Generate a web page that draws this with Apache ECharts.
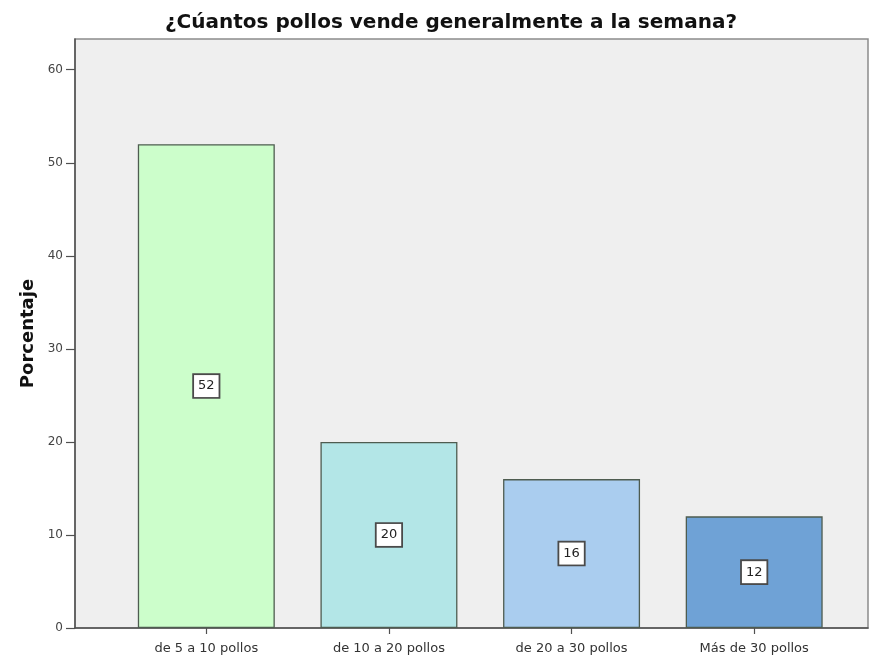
<!DOCTYPE html>
<html>
<head>
<meta charset="utf-8">
<script src="https://cdn.jsdelivr.net/npm/echarts@6/dist/echarts.min.js"></script>
<style>
  html, body { margin: 0; padding: 0; background: #ffffff; }
  #chart { width: 875px; height: 658px; }
</style>
</head>
<body>
<div id="chart"></div>
<script>
// Weekly chicken sales, percentage of respondents per range
const categories = ['de 5 a 10 pollos', 'de 10 a 20 pollos', 'de 20 a 30 pollos', 'Más de 30 pollos'];
const percentages = [52, 20, 16, 12];
const barColors = ['#ccfecb', '#b3e6e7', '#aacdef', '#6fa2d6'];
const yTicks = [0, 10, 20, 30, 40, 50, 60];

const chartTitle = '¿Cúantos pollos vende generalmente a la semana?';
const yName = 'Porcentaje';
const yMax = 63.3;

const font = 'DejaVu Sans, Arial, sans-serif';

const chart = echarts.init(document.getElementById('chart'), null, { renderer: 'canvas' });

chart.setOption({
  animation: false,
  backgroundColor: '#ffffff',
  title: {
    text: chartTitle,
    left: 446,
    textAlign: 'center',
    top: 8,
    textStyle: { fontFamily: font, fontWeight: 'bold', fontSize: 20, color: '#111' }
  },
  grid: [
    // panel with the axes
    { left: 75, top: 39, width: 793, bottom: 30, show: true,
      backgroundColor: '#efefef', borderColor: '#8c8c8c', borderWidth: 1.5 },
    // band where the bars sit
    { left: 115, top: 39, width: 730.5, bottom: 30 }
  ],
  xAxis: [
    { type: 'value', gridIndex: 0, min: 0, max: 1,
      axisLine: { show: true, lineStyle: { color: '#505050', width: 1.5 } },
      axisTick: { show: false }, axisLabel: { show: false }, splitLine: { show: false } },
    { type: 'category', gridIndex: 1, data: categories,
      axisLine: { show: false },
      axisTick: { show: true, alignWithLabel: true, length: 6, lineStyle: { color: '#505050', width: 1.2 } },
      axisLabel: { color: '#333', fontFamily: font, fontSize: 13, margin: 14 },
      splitLine: { show: false } }
  ],
  yAxis: [
    { type: 'value', gridIndex: 0, min: 0, max: yMax,
      name: yName, nameLocation: 'middle', nameGap: 38,
      nameTextStyle: { fontFamily: font, fontWeight: 'bold', fontSize: 18, color: '#111' },
      axisLine: { show: true, lineStyle: { color: '#505050', width: 1.5 } },
      axisTick: { show: true, inside: false, length: 9, customValues: yTicks, lineStyle: { color: '#505050', width: 1.2 } },
      axisLabel: { color: '#444', fontFamily: font, fontSize: 12, margin: 12, customValues: yTicks },
      splitLine: { show: false } },
    { type: 'value', gridIndex: 1, min: 0, max: yMax, show: false, splitLine: { show: false } }
  ],
  series: [{
    type: 'bar',
    xAxisIndex: 1,
    yAxisIndex: 1,
    barWidth: '75%',
    data: percentages.map((v, i) => ({
      value: v,
      itemStyle: { color: barColors[i], borderColor: '#4e5c50', borderWidth: 1.3 }
    })),
    label: {
      show: true,
      position: 'inside',
      formatter: '{c}',
      color: '#222',
      fontFamily: font,
      fontSize: 13,
      backgroundColor: '#ffffff',
      borderColor: '#4a4a4a',
      borderWidth: 1.8,
      padding: [5, 4, 4, 4]
    }
  }]
});
</script>
</body>
</html>
